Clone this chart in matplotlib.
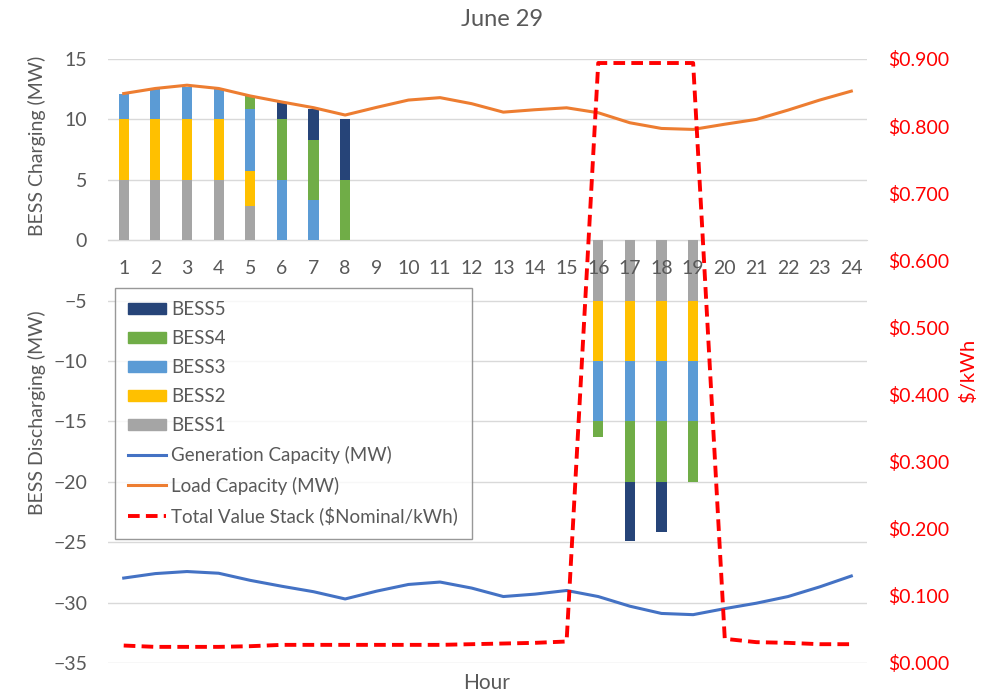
import numpy as np
import matplotlib
matplotlib.use("Agg")
from matplotlib import pyplot as plt
from matplotlib.lines import Line2D
from matplotlib.patches import Patch
from matplotlib.ticker import FuncFormatter

plt.rcParams['font.family'] = ['Lato', 'DejaVu Sans']

hours = list(range(1, 25))

# battery charge (+) / discharge (-) in MW per hour
bess1 = [5, 5, 5, 5, 2.8, 0, 0, 0, 0, 0, 0, 0, 0, 0, 0, -5, -5, -5, -5, 0, 0, 0, 0, 0]
bess2 = [5, 5, 5, 5, 2.9, 0, 0, 0, 0, 0, 0, 0, 0, 0, 0, -5, -5, -5, -5, 0, 0, 0, 0, 0]
bess3 = [2.1, 2.5, 2.7, 2.5, 5.2, 5, 3.3, 0, 0, 0, 0, 0, 0, 0, 0, -5, -5, -5, -5, 0, 0, 0, 0, 0]
bess4 = [0, 0, 0, 0, 1.05, 5, 5, 5, 0, 0, 0, 0, 0, 0, 0, -1.3, -5, -5, -5, 0, 0, 0, 0, 0]
bess5 = [0, 0, 0, 0, 0, 1.4, 2.6, 5, 0, 0, 0, 0, 0, 0, 0, 0, -4.9, -4.15, 0, 0, 0, 0, 0, 0]

gen_cap = [-27.97, -27.6, -27.43, -27.57, -28.16, -28.65, -29.1, -29.7, -29.05, -28.5,
           -28.3, -28.8, -29.5, -29.3, -29.0, -29.5, -30.3, -30.9, -31.0, -30.5,
           -30.05, -29.5, -28.7, -27.8]
load_cap = [12.14, 12.56, 12.83, 12.56, 11.94, 11.44, 10.97, 10.36, 11.0, 11.6,
            11.8, 11.3, 10.6, 10.8, 10.96, 10.55, 9.72, 9.25, 9.17, 9.6,
            10.0, 10.77, 11.6, 12.34]
value_stack = [0.026, 0.024, 0.024, 0.024, 0.025, 0.027, 0.027, 0.027, 0.027, 0.027,
               0.027, 0.028, 0.029, 0.030, 0.032, 0.894, 0.894, 0.894, 0.894, 0.036,
               0.031, 0.030, 0.028, 0.028]

bess_names = ['BESS1', 'BESS2', 'BESS3', 'BESS4', 'BESS5']
bess_colors = ['#A5A5A5', '#FFC000', '#5B9BD5', '#70AD47', '#264478']

txt = '#595959'

fig = plt.figure(figsize=(9.99, 6.94), dpi=100)
ax = fig.add_axes([0.108, 0.0447, 0.760, 0.8703])
ax2 = ax.twinx()

x = np.array(hours)
pos_base = np.zeros(24)
neg_base = np.zeros(24)
for vals, col in zip([bess1, bess2, bess3, bess4, bess5], bess_colors):
    v = np.array(vals, dtype=float)
    base = np.where(v >= 0, pos_base, neg_base)
    ax.bar(x, v, width=0.32, bottom=base, color=col, zorder=2)
    pos_base += np.where(v > 0, v, 0)
    neg_base += np.where(v < 0, v, 0)

ax.plot(x, gen_cap, color='#4472C4', lw=2.2, zorder=3)
ax.plot(x, load_cap, color='#ED7D31', lw=2.2, zorder=3)
ax2.plot(x, value_stack, color='#FF0000', lw=2.8, ls=(0, (3, 1.6)), zorder=3)

ax.set_xlim(0.5, 24.5)
ax.set_ylim(-35, 15)
ax.set_yticks(np.arange(-35, 16, 5))
ax.grid(axis='y', color='#D9D9D9', lw=1, zorder=0)
ax.set_axisbelow(True)
ax.xaxis.set_zorder(5)  # hour labels sit on top of the bars
ax2.set_ylim(0, 0.9)
ax2.set_yticks(np.arange(0, 0.91, 0.1))
ax2.yaxis.set_major_formatter(FuncFormatter(lambda v, p: '${:.3f}'.format(v)))

for s in ['top', 'left', 'right']:
    ax.spines[s].set_visible(False)
    ax2.spines[s].set_visible(False)
ax2.spines['bottom'].set_visible(False)
ax.spines['bottom'].set_position(('data', 0))
ax.spines['bottom'].set_color('#D9D9D9')
ax.spines['bottom'].set_zorder(0.5)

ax.set_xticks(hours)
ax.tick_params(axis='x', length=0, pad=14, labelsize=14, labelcolor=txt)
ax.tick_params(axis='y', length=0, pad=15, labelsize=14, labelcolor=txt)
ax2.tick_params(axis='y', length=0, pad=15, labelsize=14, labelcolor='#FF0000')

fig.text(0.503, 0.972, 'June 29', ha='center', va='center', fontsize=17, color=txt)
fig.text(0.4875, 0.016, 'Hour', ha='center', va='center', fontsize=15, color=txt)
fig.text(0.037, 0.79, 'BESS Charging (MW)', rotation=90, ha='center', va='center',
         fontsize=14, color=txt)
fig.text(0.037, 0.405, 'BESS Discharging (MW)', rotation=90, ha='center', va='center',
         fontsize=14, color=txt)
fig.text(0.969, 0.467, '$/kWh', rotation=90, ha='center', va='center',
         fontsize=14.5, color='#FF0000')

handles = [Patch(color=c) for c in bess_colors[::-1]]
handles += [Line2D([], [], color='#4472C4', lw=2.2),
            Line2D([], [], color='#ED7D31', lw=2.2),
            Line2D([], [], color='#FF0000', lw=2.8, ls=(0, (3, 1.6)))]
labels = bess_names[::-1] + ['Generation Capacity (MW)', 'Load Capacity (MW)',
                             'Total Value Stack ($Nominal/kWh)']
leg = ax2.legend(handles, labels, loc='upper left', bbox_to_anchor=(0.009, 0.621),
                 fontsize=13.5, frameon=True, fancybox=False, edgecolor='#7F7F7F',
                 handlelength=2.0, handleheight=0.53, handletextpad=0.3,
                 labelspacing=0.64, borderpad=0.72, borderaxespad=0)
leg.get_frame().set_linewidth(1.0)
for t in leg.get_texts():
    t.set_color(txt)

fig.savefig('out.png', dpi=100)
